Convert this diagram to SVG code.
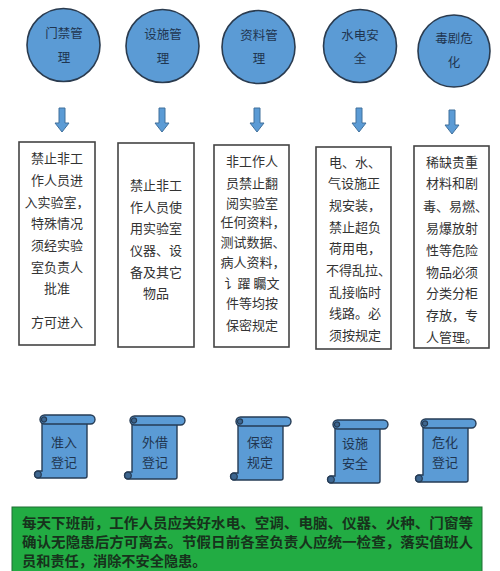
<svg xmlns="http://www.w3.org/2000/svg" xmlns:xlink="http://www.w3.org/1999/xlink" width="500" height="571" viewBox="0 0 500 571">
<style>
.c{fill:#5b9bd5;stroke:#2a3b4f;stroke-width:1.6}
.ct{font-family:"Noto Sans CJK SC",sans-serif;font-size:12.5px;fill:#1f3550;text-anchor:middle}
.box{fill:#fff;stroke:#444;stroke-width:1.6}
.bt{font-family:"Noto Sans CJK SC",sans-serif;font-size:13px;fill:#333}
.mid{text-anchor:middle}
.st{font-family:"Noto Sans CJK SC",sans-serif;font-size:13px;fill:#1f3550;text-anchor:middle}
.gt{font-family:"Noto Sans CJK SC",sans-serif;font-size:14.2px;fill:#17321c;font-weight:bold}
.arr{fill:#5b9bd5;stroke:#41719c;stroke-width:1}
.scr{fill:#5b9bd5;stroke:#263c55;stroke-width:1.4}
.curl{fill:#3d6690;stroke:#263c55;stroke-width:1.2}
</style>
<defs>
<path id="arrow" class="arr" d="M-3,0 H3 V15 H7 L0,24 L-7,15 H-3 Z"/>
<g id="scroll">
<path class="scr" d="M0,2 H45 V57 Q45,59 43,59 H-4 A3.5,3.5 0 0 1 -4,52 H0 Z"/>
<rect class="scr" x="-2" y="-4" width="55" height="9" rx="4.5"/>
<circle class="curl" cx="2" cy="0.5" r="2.6"/>
<circle class="curl" cx="-4" cy="55.5" r="3.3"/>
</g>
</defs>
<rect width="500" height="571" fill="#fff"/>
<g id="connectors">
<use xlink:href="#arrow" x="62" y="108"/>
<use xlink:href="#arrow" x="162" y="108"/>
<use xlink:href="#arrow" x="257" y="108"/>
<use xlink:href="#arrow" x="359" y="108"/>
<use xlink:href="#arrow" x="452" y="110"/>
</g>
<g id="circle1"><circle class="c" cx="63.5" cy="45" r="36.5"/><text class="ct" x="64" y="38">门禁管</text><text class="ct" x="64" y="62">理</text></g>
<g id="circle2"><circle class="c" cx="162.5" cy="46" r="36.5"/><text class="ct" x="163" y="39">设施管</text><text class="ct" x="163" y="63">理</text></g>
<g id="circle3"><circle class="c" cx="258.5" cy="47" r="36.5"/><text class="ct" x="259" y="40">资料管</text><text class="ct" x="259" y="63">理</text></g>
<g id="circle4"><circle class="c" cx="360" cy="46" r="36.5"/><text class="ct" x="360" y="40">水电安</text><text class="ct" x="360" y="63">全</text></g>
<g id="circle5"><circle class="c" cx="454" cy="51" r="36"/><text class="ct" x="454" y="43">毒剧危</text><text class="ct" x="454" y="67">化</text></g>
<g id="box1"><rect class="box" x="19" y="142" width="76" height="203"/>
<g class="bt mid">
<text x="57" y="163">禁止非工</text><text x="57" y="185">作人员进</text><text x="57" y="207">入实验室，</text><text x="57" y="228">特殊情况</text><text x="57" y="250">须经实验</text><text x="57" y="272">室负责人</text><text x="57" y="293">批准</text><text x="57" y="327">方可进入</text>
</g></g>
<g id="box2"><rect class="box" x="118" y="143" width="76" height="204"/>
<g class="bt mid">
<text x="156" y="190">禁止非工</text><text x="156" y="212">作人员使</text><text x="156" y="233">用实验室</text><text x="156" y="255">仪器、设</text><text x="156" y="277">备及其它</text><text x="156" y="298">物品</text>
</g></g>
<g id="box3"><rect class="box" x="214" y="145" width="75" height="202"/>
<g class="bt mid">
<text x="252" y="166">非工作人</text><text x="252" y="188">员禁止翻</text><text x="252" y="208">阅实验室</text><text x="253" y="227">任何资料，</text><text x="253" y="247">测试数据、</text><text x="253" y="267">病人资料，</text><text x="252" y="288">讠躍 矚文</text><text x="252" y="308">件等均按</text><text x="252" y="330">保密规定</text>
</g></g>
<g id="box4"><rect class="box" x="316" y="147" width="75" height="202"/>
<g class="bt">
<text x="329" y="167">电、水、</text><text x="328" y="188">气设施正</text><text x="329" y="210">规安装，</text><text x="329" y="232">禁止超负</text><text x="329" y="253">荷用电，</text><text x="326" y="275">不得乱拉、</text><text x="329" y="297">乱接临时</text><text x="329" y="318">线路。必</text><text x="329" y="340">须按规定</text>
</g></g>
<g id="box5"><rect class="box" x="414" y="146" width="75" height="202"/>
<g class="bt">
<text x="426" y="167">稀缺贵重</text><text x="426" y="188">材料和剧</text><text x="423" y="211">毒、易燃、</text><text x="426" y="233">易爆放射</text><text x="426" y="255">性等危险</text><text x="426" y="277">物品必须</text><text x="426" y="298">分类分柜</text><text x="426" y="320">存放，专</text><text x="426" y="342">人管理。</text>
</g></g>
<g id="scroll1"><use xlink:href="#scroll" x="42" y="419"/><text class="st" x="64" y="447">准入</text><text class="st" x="64" y="467">登记</text></g>
<g id="scroll2"><use xlink:href="#scroll" x="132" y="420"/><text class="st" x="155" y="447">外借</text><text class="st" x="155" y="467">登记</text></g>
<g id="scroll3"><use xlink:href="#scroll" x="238" y="421"/><text class="st" x="260" y="447">保密</text><text class="st" x="260" y="467">规定</text></g>
<g id="scroll4"><use xlink:href="#scroll" x="335" y="424"/><text class="st" x="355" y="448">设施</text><text class="st" x="355" y="468">安全</text></g>
<g id="scroll5"><use xlink:href="#scroll" x="423" y="423"/><text class="st" x="445" y="447">危化</text><text class="st" x="445" y="467">登记</text></g>
<g id="notice"><rect x="12" y="507" width="470" height="70" fill="#22ac43" stroke="#1f6e35" stroke-width="1"/>
<text class="gt" x="22" y="528" textLength="451" lengthAdjust="spacingAndGlyphs">每天下班前，工作人员应关好水电、空调、电脑、仪器、火种、门窗等</text>
<text class="gt" x="22" y="547" textLength="451" lengthAdjust="spacingAndGlyphs">确认无隐患后方可离去。节假日前各室负责人应统一检查，落实值班人</text>
<text class="gt" x="22" y="566">员和责任，消除不安全隐患。</text>
</g>
</svg>
